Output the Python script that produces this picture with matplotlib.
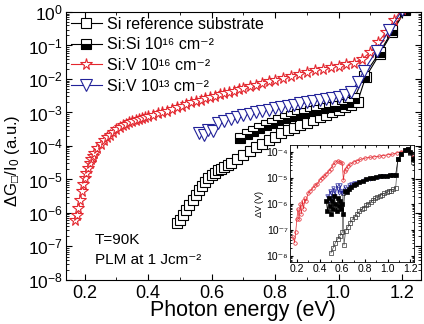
import matplotlib
matplotlib.use("Agg")
import matplotlib.pyplot as plt
import numpy as np
from matplotlib.ticker import LogLocator, MultipleLocator, NullFormatter, FormatStrFormatter, FuncFormatter

plt.rcParams['font.family'] = ['Liberation Sans', 'DejaVu Sans']
plt.rcParams['mathtext.fontset'] = 'custom'
plt.rcParams['mathtext.rm'] = 'Liberation Sans'
plt.rcParams['mathtext.it'] = 'Liberation Sans:italic'
plt.rcParams['mathtext.bf'] = 'Liberation Sans:bold'

# ---- main panel data (x: photon energy eV, y: log10 of dG/I0) ----
red_x = [0.170,0.175,0.180,0.185,0.190,0.195,0.200,0.205,0.210,0.215,0.220,0.225,0.230,0.240,0.250,0.260,0.270,0.280,0.290,0.300,0.310,0.320,0.330,0.340,0.350,0.360,0.370,0.380,0.390,0.400,0.415,0.430,0.445,0.460,0.475,0.490,0.505,0.520,0.535,0.550,0.565,0.580,0.595,0.610,0.625,0.640,0.655,0.670,0.685,0.700,0.720,0.740,0.760,0.780,0.800,0.825,0.850,0.875,0.900,0.925,0.950,0.975,1.000,1.025,1.050,1.075,1.100,1.125,1.150,1.175,1.200,1.225]
red_log10 = [-6.2,-6.05,-5.85,-5.6,-5.35,-5.15,-4.95,-4.8,-4.65,-4.5,-4.4,-4.3,-4.2,-4.05,-3.93,-3.83,-3.74,-3.66,-3.58,-3.5,-3.44,-3.38,-3.33,-3.29,-3.26,-3.23,-3.2,-3.17,-3.14,-3.11,-3.07,-3.03,-2.99,-2.95,-2.9,-2.85,-2.8,-2.75,-2.7,-2.66,-2.62,-2.58,-2.54,-2.5,-2.46,-2.42,-2.39,-2.35,-2.31,-2.27,-2.22,-2.17,-2.12,-2.07,-2.02,-1.96,-1.9,-1.85,-1.79,-1.74,-1.69,-1.64,-1.6,-1.56,-1.51,-1.4,-1.2,-0.9,-0.6,-0.25,0.1,0.45]

ref_x = [0.49,0.50,0.51,0.52,0.53,0.54,0.55,0.56,0.57,0.58,0.59,0.60,0.61,0.62,0.63,0.64,0.65,0.66,0.68,0.70,0.72,0.74,0.76,0.78,0.80,0.82,0.84,0.86,0.88,0.90,0.92,0.94,0.96,0.98,1.00,1.02,1.04,1.06,1.085,1.13,1.17,1.21]
ref_log10 = [-6.3,-6.2,-6.05,-5.9,-5.75,-5.6,-5.45,-5.3,-5.2,-5.08,-4.97,-4.88,-4.8,-4.73,-4.68,-4.62,-4.57,-4.52,-4.4,-4.28,-4.16,-4.04,-3.93,-3.82,-3.72,-3.62,-3.53,-3.45,-3.38,-3.3,-3.22,-3.15,-3.07,-3.0,-2.93,-2.85,-2.78,-2.68,-1.95,-1.25,-0.6,0.05]

sisi_x = [0.69,0.71,0.73,0.75,0.77,0.79,0.81,0.83,0.85,0.87,0.89,0.91,0.93,0.95,0.97,0.99,1.01,1.03,1.05,1.08,1.13,1.17,1.21]
sisi_log10 = [-3.75,-3.65,-3.55,-3.45,-3.37,-3.3,-3.23,-3.17,-3.11,-3.06,-3.01,-2.96,-2.92,-2.88,-2.84,-2.8,-2.75,-2.69,-2.58,-1.9,-1.2,-0.55,0.1]

v13_x = [0.56,0.575,0.59,0.605,0.62,0.64,0.66,0.68,0.70,0.72,0.74,0.76,0.78,0.80,0.82,0.84,0.86,0.88,0.90,0.92,0.94,0.96,0.98,1.00,1.02,1.04,1.06,1.08,1.12,1.16,1.20]
v13_log10 = [-3.62,-3.66,-3.52,-3.56,-3.32,-3.25,-3.2,-3.13,-3.08,-3.04,-3.0,-2.96,-2.92,-2.88,-2.84,-2.8,-2.77,-2.73,-2.7,-2.67,-2.64,-2.61,-2.57,-2.53,-2.48,-2.4,-2.1,-1.75,-1.15,-0.55,0.05]

# ---- inset data (x: eV, y: log10 of dV in V) ----
ri_x = [0.17,0.18,0.19,0.20,0.21,0.22,0.23,0.24,0.25,0.26,0.27,0.28,0.30,0.32,0.34,0.36,0.38,0.40,0.42,0.44,0.46,0.48,0.50,0.52,0.54,0.56,0.58,0.60,0.61,0.62,0.63,0.65,0.67,0.70,0.73,0.76,0.80,0.84,0.88,0.92,0.96,1.00,1.04,1.08,1.12,1.16,1.20,1.22]
ri_log10 = [-7.3,-7.5,-7.1,-6.6,-6.2,-6.6,-6.0,-6.4,-5.9,-6.2,-5.8,-5.9,-5.6,-5.5,-5.4,-5.3,-5.25,-5.1,-5.0,-4.95,-4.85,-4.75,-4.65,-4.5,-4.4,-4.35,-4.4,-4.45,-5.1,-4.75,-4.65,-4.55,-4.48,-4.4,-4.35,-4.3,-4.25,-4.22,-4.2,-4.18,-4.15,-4.12,-4.1,-4.05,-4.0,-3.95,-4.0,-4.2]

bi_x = [0.46,0.47,0.48,0.49,0.50,0.51,0.52,0.53,0.54,0.55,0.56,0.57,0.58,0.59,0.60,0.61,0.62,0.64,0.66,0.68,0.70,0.72,0.75,0.78,0.81,0.84,0.87,0.90,0.93,0.96,0.99,1.02,1.05,1.07,1.09,1.12,1.15,1.18,1.20,1.22]
bi_log10 = [-5.9,-6.3,-5.8,-6.1,-6.4,-5.9,-6.2,-5.7,-6.0,-6.3,-5.8,-6.1,-5.9,-6.2,-6.0,-6.4,-5.5,-5.55,-5.45,-5.35,-5.3,-5.25,-5.18,-5.12,-5.07,-5.03,-5.0,-4.97,-4.95,-4.93,-4.92,-4.9,-4.9,-4.9,-4.3,-4.1,-3.95,-3.9,-4.0,-4.3]

blui_x = [0.47,0.48,0.49,0.50,0.51,0.52,0.53,0.54,0.55,0.56,0.57,0.58,0.59,0.60,0.62,0.64,0.66,0.68,0.70,0.73,0.76,0.80,0.84,0.88,0.92,0.96,1.00,1.04]
blui_log10 = [-5.7,-5.9,-5.5,-5.6,-5.8,-5.4,-5.5,-5.7,-5.3,-5.45,-5.6,-5.3,-5.5,-5.6,-5.35,-5.5,-5.3,-5.25,-5.2,-5.2,-5.15,-5.1,-5.05,-5.0,-4.98,-4.95,-4.93,-4.9]

oi_x = [0.50,0.52,0.54,0.56,0.58,0.60,0.605,0.615,0.63,0.65,0.67,0.69,0.71,0.73,0.75,0.77,0.79,0.81,0.83,0.85,0.87,0.89,0.91,0.93,0.95,0.97,0.99,1.01,1.03,1.05,1.07,1.09,1.12,1.15,1.18,1.20,1.22]
oi_log10 = [-7.9,-7.7,-7.5,-7.35,-7.25,-7.1,-5.6,-7.6,-7.05,-6.9,-6.75,-6.6,-6.5,-6.4,-6.3,-6.22,-6.15,-6.07,-6.0,-5.93,-5.87,-5.8,-5.75,-5.7,-5.65,-5.6,-5.57,-5.53,-5.5,-5.45,-5.4,-4.3,-4.1,-3.95,-3.9,-4.05,-4.4]

labels = ["Si reference substrate", "Si:Si 10¹⁶ cm⁻²",
          "Si:V 10¹⁶ cm⁻²", "Si:V 10¹³ cm⁻²"]
RED = '#e3262e'
BLUE = '#222299'

SUP = str.maketrans("-0123456789", "⁻⁰¹²³⁴⁵⁶⁷⁸⁹")

def p10(v):
    return np.power(10.0, np.asarray(v, dtype=float))

def sup_fmt(v, pos):
    e = int(round(np.log10(v)))
    return "10" + str(e).translate(SUP)

fig = plt.figure(figsize=(4.24, 3.24), dpi=100)
ax = fig.add_axes([0.155, 0.136, 0.838, 0.827])

ax.plot(ref_x, p10(ref_log10), '-', color='black', lw=0.8, marker='s', ms=6.5,
        mfc='white', mec='black', mew=0.8, label=labels[0])
ax.plot(sisi_x, p10(sisi_log10), '-', color='black', lw=0.8, marker='s', ms=6.5,
        fillstyle='bottom', mfc='black', mfcalt='white', mec='black', mew=0.8, label=labels[1])
ax.plot(red_x, p10(red_log10), '-', color=RED, lw=0.8, marker='*', ms=8.5,
        mfc='white', mec=RED, mew=0.8, label=labels[2])
ax.plot(v13_x, p10(v13_log10), '-', color=BLUE, lw=0.8, marker='v', ms=8,
        mfc='white', mec=BLUE, mew=0.8, label=labels[3])

ax.set_yscale('log')
ax.set_xlim(0.14, 1.26)
ax.set_ylim(1e-8, 1e0)
ax.yaxis.set_major_locator(LogLocator(base=10, numticks=20))
ax.yaxis.set_minor_locator(LogLocator(base=10, subs=np.arange(2, 10), numticks=20))
ax.yaxis.set_minor_formatter(NullFormatter())
ax.xaxis.set_major_locator(MultipleLocator(0.2))
ax.xaxis.set_minor_locator(MultipleLocator(0.1))
ax.xaxis.set_major_formatter(FormatStrFormatter('%.1f'))
ax.tick_params(which='both', direction='in', top=True, right=True, labelsize=13)
ax.tick_params(axis='y', labelsize=12.5, pad=2)
ax.tick_params(which='major', length=4)
ax.tick_params(which='minor', length=2)
ax.set_xlabel("Photon energy (eV)", fontsize=15.5, labelpad=-1)
ax.set_ylabel(r"$\Delta$G$_{□}$/I$_0$ (a.u.)", fontsize=12)
ax.yaxis.set_label_coords(-0.122, 0.444)

leg = ax.legend(loc='upper left', frameon=False, fontsize=11.5, handlelength=2.0,
                borderaxespad=0.1, labelspacing=0.35, handletextpad=0.3,
                borderpad=0.2)

ax.text(0.232, p10(-6.8), "T=90K", fontsize=11, va='center')
ax.text(0.232, p10(-7.4), "PLM at 1 Jcm⁻²", fontsize=11, va='center')

# inset
ins = fig.add_axes([0.684, 0.191, 0.292, 0.361])
ins.plot(ri_x, p10(ri_log10), '-', color=RED, lw=0.5, marker='o', ms=2.5,
         mfc='none', mec=RED, mew=0.5)
ins.plot(oi_x, p10(oi_log10), '-', color='#555555', lw=0.5, marker='s', ms=2.5,
         mfc='none', mec='#333333', mew=0.5)
ins.plot(blui_x, p10(blui_log10), '-', color=BLUE, lw=0.5, marker='v', ms=2.5,
         mfc='none', mec=BLUE, mew=0.5)
ins.plot(bi_x, p10(bi_log10), '-', color='black', lw=0.5, marker='s', ms=2.5,
         mfc='black', mec='black', mew=0.5)
ins.set_yscale('log')
ins.set_xlim(0.14, 1.23)
ins.set_ylim(10**-8.25, 10**-3.75)
ins.yaxis.set_major_locator(LogLocator(base=10, numticks=20))
ins.yaxis.set_minor_locator(LogLocator(base=10, subs=np.arange(2, 10), numticks=20))
ins.yaxis.set_major_formatter(FuncFormatter(sup_fmt))
ins.yaxis.set_minor_formatter(NullFormatter())
ins.xaxis.set_major_locator(MultipleLocator(0.2))
ins.xaxis.set_minor_locator(MultipleLocator(0.1))
ins.xaxis.set_major_formatter(FormatStrFormatter('%.1f'))
ins.tick_params(which='both', direction='in', top=True, right=True, labelsize=7.5, pad=1.5)
ins.tick_params(which='major', length=2.5)
ins.tick_params(which='minor', length=1.3)
for s in ins.spines.values():
    s.set_linewidth(0.6)
ins.set_ylabel(r"$\Delta$V (V)", fontsize=6.5, labelpad=0)

fig.savefig("out.png", dpi=100)
